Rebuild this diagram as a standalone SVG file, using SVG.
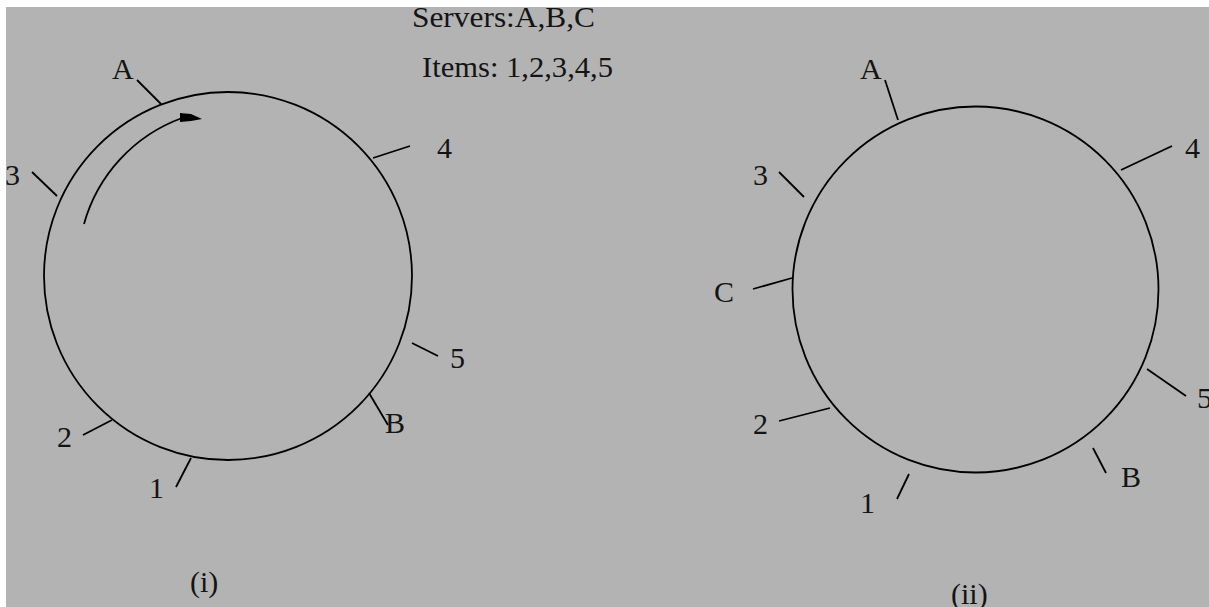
<svg xmlns="http://www.w3.org/2000/svg" width="1209" height="607" viewBox="0 0 1209 607">
<style>
  .ring{fill:none;stroke:#000;stroke-width:1.8}
  .tick{stroke:#000;stroke-width:1.8;fill:none}
  text{font-family:"Liberation Serif","Times New Roman",serif;font-size:30px;fill:#141414}
</style>
<rect x="0" y="0" width="1209" height="607" fill="#ffffff"/>
<rect x="6" y="7" width="1203" height="600" fill="#b3b3b3"/>
<g id="title">
  <text x="412" y="27" textLength="183" lengthAdjust="spacingAndGlyphs">Servers:A,B,C</text>
  <text x="422" y="77" textLength="191" lengthAdjust="spacingAndGlyphs">Items: 1,2,3,4,5</text>
</g>
<g id="ring1">
  <circle class="ring" cx="228" cy="276" r="184"/>
  <text x="190" y="592">(i)</text>
</g>
<g id="ring2">
  <circle class="ring" cx="975.5" cy="289.5" r="183"/>
  <text x="951" y="604">(ii)</text>
</g>
<g id="connectors">
  <line class="tick" x1="137" y1="80" x2="161" y2="104"/>
  <line class="tick" x1="32" y1="172" x2="57" y2="196"/>
  <line class="tick" x1="373" y1="158" x2="410" y2="146"/>
  <line class="tick" x1="412" y1="343" x2="438" y2="356"/>
  <line class="tick" x1="369" y1="393" x2="388" y2="425"/>
  <line class="tick" x1="83" y1="435" x2="112" y2="420"/>
  <line class="tick" x1="191" y1="458" x2="176" y2="487"/>
  <path class="tick" d="M84,224 A158,158 0 0 1 182,118"/>
  <polygon points="180,113 191,114 202,119 191,121 180,122" fill="#000"/>
  <line class="tick" x1="885" y1="80" x2="898" y2="120"/>
  <line class="tick" x1="779" y1="172" x2="804" y2="197"/>
  <line class="tick" x1="1121" y1="170" x2="1172" y2="146"/>
  <line class="tick" x1="753" y1="289" x2="792" y2="278"/>
  <line class="tick" x1="779" y1="421" x2="830" y2="408"/>
  <line class="tick" x1="909" y1="474" x2="897" y2="499"/>
  <line class="tick" x1="1093" y1="448" x2="1106" y2="473"/>
  <line class="tick" x1="1147" y1="369" x2="1186" y2="396"/>
</g>
<g id="labels1">
  <text x="112" y="79">A</text>
  <text x="5" y="185">3</text>
  <text x="437" y="158">4</text>
  <text x="450" y="368">5</text>
  <text x="385" y="433">B</text>
  <text x="57" y="447">2</text>
  <text x="149" y="498">1</text>
</g>
<g id="labels2">
  <text x="860" y="79">A</text>
  <text x="753" y="185">3</text>
  <text x="1185" y="158">4</text>
  <text x="714" y="302">C</text>
  <text x="753" y="434">2</text>
  <text x="860" y="513">1</text>
  <text x="1121" y="487">B</text>
  <text x="1197" y="408">5</text>
</g>
</svg>
